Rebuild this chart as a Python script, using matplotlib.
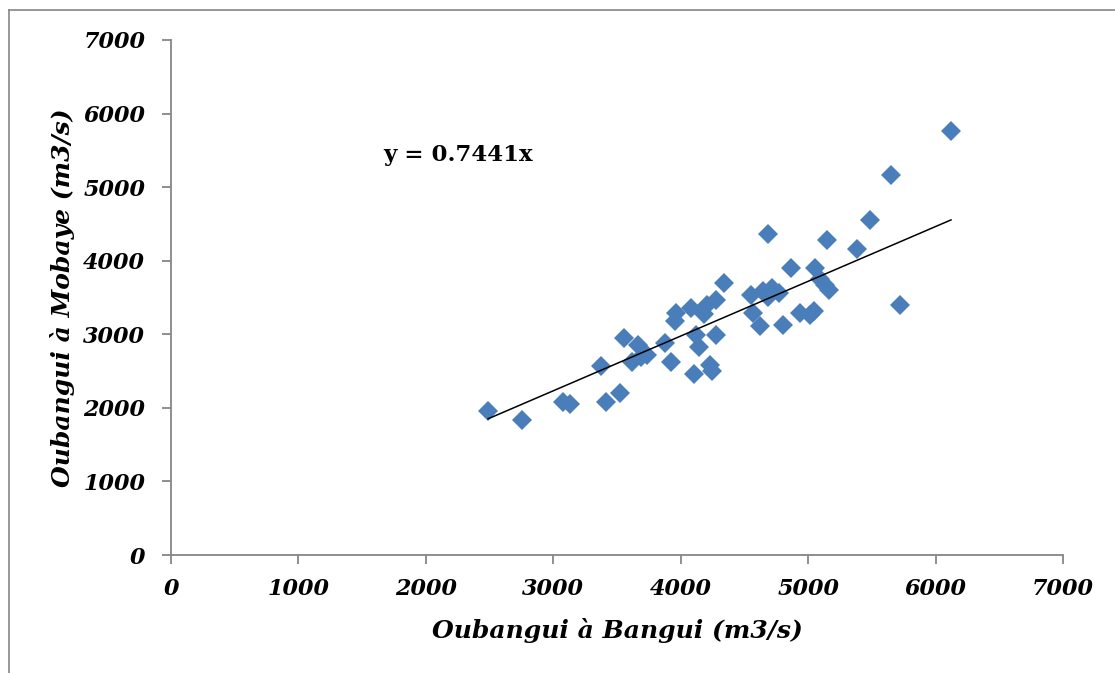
import numpy as np
import matplotlib
matplotlib.use('Agg')
import matplotlib.pyplot as plt
from matplotlib.lines import Line2D

# debits mensuels (m3/s)
bangui = [2488, 2754, 3076, 3131, 3374, 3414, 3524, 3553, 3618, 3665,
          3688, 3735, 3880, 3924, 3955, 3963, 4080, 4104, 4120, 4143,
          4183, 4206, 4230, 4245, 4277, 4277, 4340, 4552, 4567, 4622,
          4646, 4685, 4685, 4716, 4771, 4803, 4865, 4936, 5015, 5046,
          5054, 5093, 5132, 5164, 5148, 5383, 5485, 5650, 5720, 6121]
mobaye = [1957, 1835, 2080, 2052, 2569, 2080, 2202, 2950, 2623, 2854,
          2691, 2719, 2880, 2623, 3181, 3289, 3357, 2460, 2990, 2827,
          3275, 3398, 2583, 2501, 2990, 3466, 3697, 3534, 3289, 3113,
          3588, 3507, 4363, 3629, 3561, 3126, 3901, 3289, 3262, 3317,
          3901, 3752, 3670, 3602, 4282, 4159, 4553, 5165, 3398, 5763]
pente = 0.7441

ticks = [0, 1000, 2000, 3000, 4000, 5000, 6000, 7000]

fig = plt.figure(figsize=(11.15, 6.73), dpi=100)
ax = fig.add_axes([0.1534, 0.1753, 0.8, 0.7653])

ax.plot(bangui, mobaye, 'D', color='#4a7ebb', markersize=10, markeredgewidth=0, zorder=3)
xl = np.array([min(bangui), max(bangui)])
ax.plot(xl, pente * xl, color='black', lw=1.1, zorder=4)

ax.text(1664, 5437, 'y = 0.7441x', fontsize=16.5, fontweight='bold',
        family='DejaVu Serif', va='center', ha='left')

ax.set_xlim(0, 7000)
ax.set_ylim(0, 7000)
ax.set_xticks(ticks)
ax.set_yticks(ticks)
for lab in ax.get_xticklabels() + ax.get_yticklabels():
    lab.set_family('DejaVu Serif')
    lab.set_fontweight('bold')
    lab.set_style('italic')
    lab.set_fontsize(16)

ax.spines['top'].set_visible(False)
ax.spines['right'].set_visible(False)
for s in ['left', 'bottom']:
    ax.spines[s].set_color('#868686')
    ax.spines[s].set_linewidth(1.3)
ax.tick_params(direction='out', length=6.5, width=1.3, color='#868686')
ax.tick_params(axis='x', pad=10)
ax.tick_params(axis='y', pad=12)

ax.set_xlabel('Oubangui à Bangui (m3/s)', fontsize=18, fontweight='bold',
              style='italic', family='DejaVu Serif', labelpad=13)
ax.set_ylabel('Oubangui à Mobaye (m3/s)', fontsize=18, fontweight='bold',
              style='italic', family='DejaVu Serif', labelpad=6)

# cadre du graphique
fig.add_artist(Line2D([9/1115, 9/1115], [0, 1 - 10/673], transform=fig.transFigure,
                      color='#868686', lw=1.2))
fig.add_artist(Line2D([9/1115, 1], [1 - 10/673, 1 - 10/673], transform=fig.transFigure,
                      color='#868686', lw=1.2))

fig.savefig('out.png', dpi=100)
